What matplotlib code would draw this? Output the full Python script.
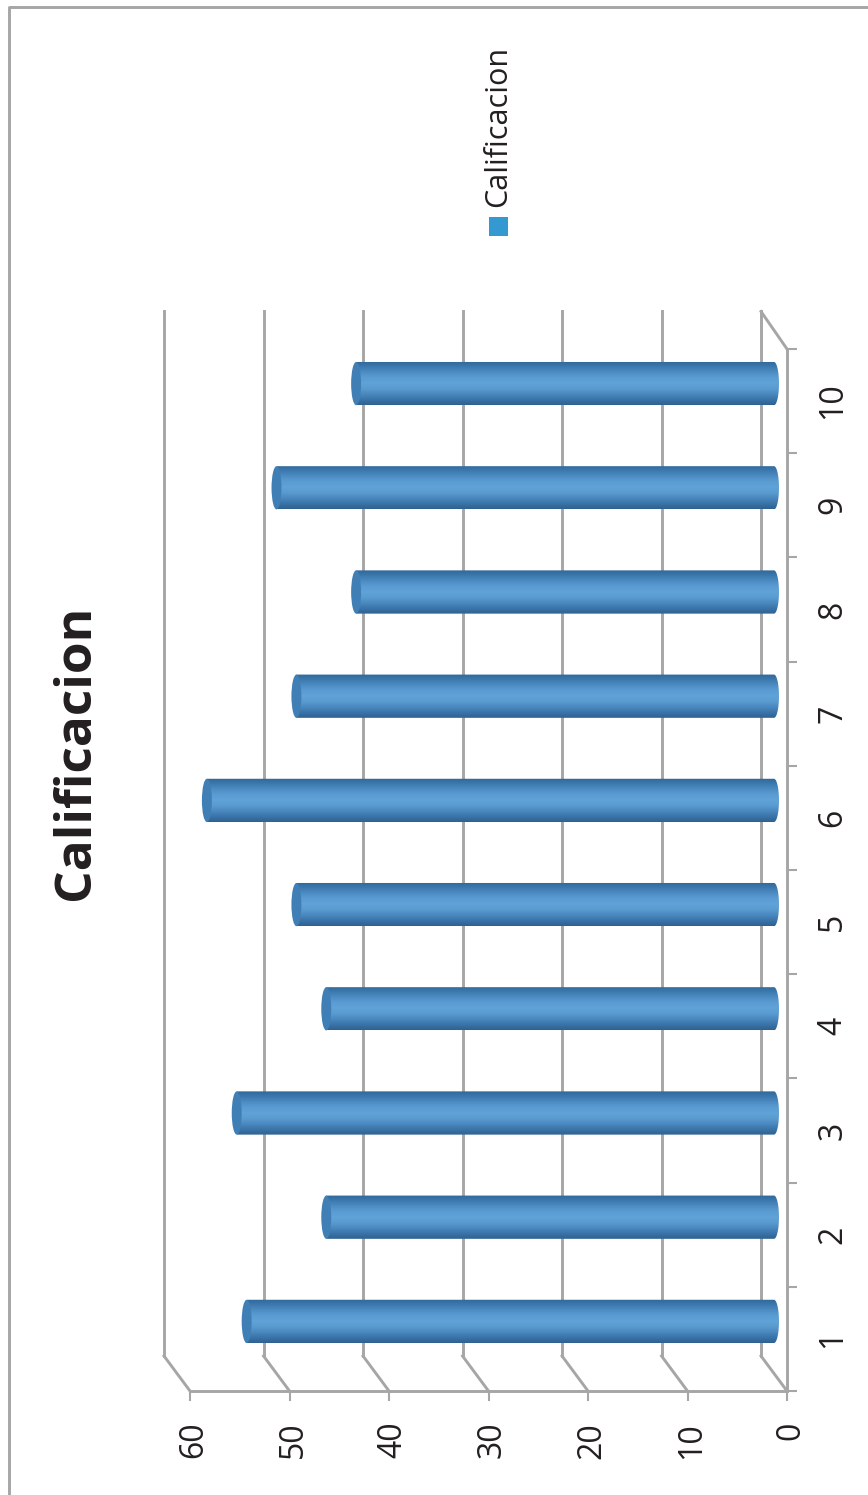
import matplotlib
matplotlib.use("Agg")
import matplotlib.pyplot as plt
import numpy as np
from matplotlib.colors import LinearSegmentedColormap
from matplotlib.lines import Line2D
from matplotlib.patches import Ellipse, Polygon, Rectangle
from matplotlib.transforms import Affine2D

plt.rcParams['font.family'] = ['Open Sans', 'DejaVu Sans']

categories = ["1", "2", "3", "4", "5", "6", "7", "8", "9", "10"]
values = [53, 45, 54, 45, 48, 57, 48, 42, 50, 42]
value_ticks = [0, 10, 20, 30, 40, 50, 60]
title = "Calificacion"

W, H = 868, 1495
GREY = "#a6a6a6"
TEXT = "#231f20"
# how far the back wall is shifted from the front axis, in data units
depth_x = 2.61
depth_y = 0.336
wall_top = 0.36
bar_h = 0.415
cap_w = 1.0

fig = plt.figure(figsize=(W / 100, H / 100), dpi=100)
ax = fig.add_axes([190 / W, 1 - 1391 / H, 597 / W, 1042 / H])
n = len(categories)

cmap = LinearSegmentedColormap.from_list("cyl", ["#31689b", "#3d7aaf", "#4d8dc4", "#5a9cd3", "#60a3d8",
                                                 "#5a9bd0", "#4b89c0", "#3b75aa", "#2f6291"])
grad = np.linspace(0, 1, 64).reshape(-1, 1)

# back wall grid and the floor edges
for v in value_ticks:
    ax.plot([v + depth_x, v + depth_x], [0.5 + depth_y, n + 0.5 + wall_top], color=GREY, lw=2.1, clip_on=False, zorder=1)
    ax.plot([v, v + depth_x], [0.5, 0.5 + depth_y], color=GREY, lw=2.1, clip_on=False, zorder=1)
ax.plot([0, depth_x], [n + 0.5, n + 0.5 + wall_top], color=GREY, lw=2.1, clip_on=False, zorder=1)

t = np.linspace(-np.pi / 2, np.pi / 2, 40)
for i, v in enumerate(values):
    yc = i + 1 + depth_y / 2
    x0 = depth_x / 2
    x1 = v + depth_x / 2
    # body is clipped so that the base end comes out round
    ex = x0 - cap_w / 2 * np.cos(t)
    ey = yc + bar_h / 2 * np.sin(t)
    outline = np.column_stack([np.r_[ex, x1, x1], np.r_[ey, yc + bar_h / 2, yc - bar_h / 2]])
    clip = Polygon(outline, transform=ax.transData)
    im = ax.imshow(grad, extent=[x1, x0 - cap_w / 2, yc - bar_h / 2, yc + bar_h / 2], origin="upper",
                   cmap=cmap, aspect="auto", interpolation="bilinear", zorder=2)
    im.set_clip_path(clip)
    ax.add_patch(Ellipse((x1, yc), cap_w, bar_h, facecolor="#3f7fb5", edgecolor="none", zorder=3, clip_on=False))

ax.set_xlim(60, 0)
ax.set_ylim(0.5, n + 0.5)
ax.patch.set_visible(False)
ax.spines["top"].set_visible(False)
ax.spines["left"].set_visible(False)
for s in ["bottom", "right"]:
    ax.spines[s].set_color(GREY)
    ax.spines[s].set_linewidth(2.1)

ax.set_xticks(value_ticks)
ax.set_xticklabels([str(v) for v in value_ticks], rotation=90, fontsize=23, color=TEXT, va="top", ha="center")
ax.tick_params(axis="x", length=7.2, width=1.5, color=GREY, pad=15)
for lab in ax.get_xticklabels():
    lab.set_transform(lab.get_transform() + Affine2D().translate(4, 0))

ax.yaxis.tick_right()
ax.set_yticks(np.arange(0.5, n + 1))
ax.set_yticklabels([])
ax.set_yticks(np.arange(1, n + 1), minor=True)
ax.set_yticklabels(categories, minor=True, rotation=90, fontsize=23, color=TEXT, va="center", ha="left")
ax.tick_params(axis="y", which="major", length=7.2, width=1.5, color=GREY)
ax.tick_params(axis="y", which="minor", length=0, pad=21)

fig.text(76 / W, 1 - 752.5 / H, title, rotation=90, fontsize=37, fontweight="bold", color=TEXT, ha="center", va="center")
fig.text(498 / W, 1 - 207 / H, title, rotation=90, fontsize=22, color=TEXT, ha="center", va="bottom")
fig.patches.append(Rectangle((489 / W, 1 - 236 / H), 19 / W, 19 / H, transform=fig.transFigure, facecolor="#3399d0", edgecolor="none"))

# outer chart frame, only left and top are in the picture
fig.add_artist(Line2D([8.5 / W, 8.5 / W, 1], [0, 1 - 6.5 / H, 1 - 6.5 / H], color=GREY, lw=2.1))

fig.savefig("out.png", dpi=100)
